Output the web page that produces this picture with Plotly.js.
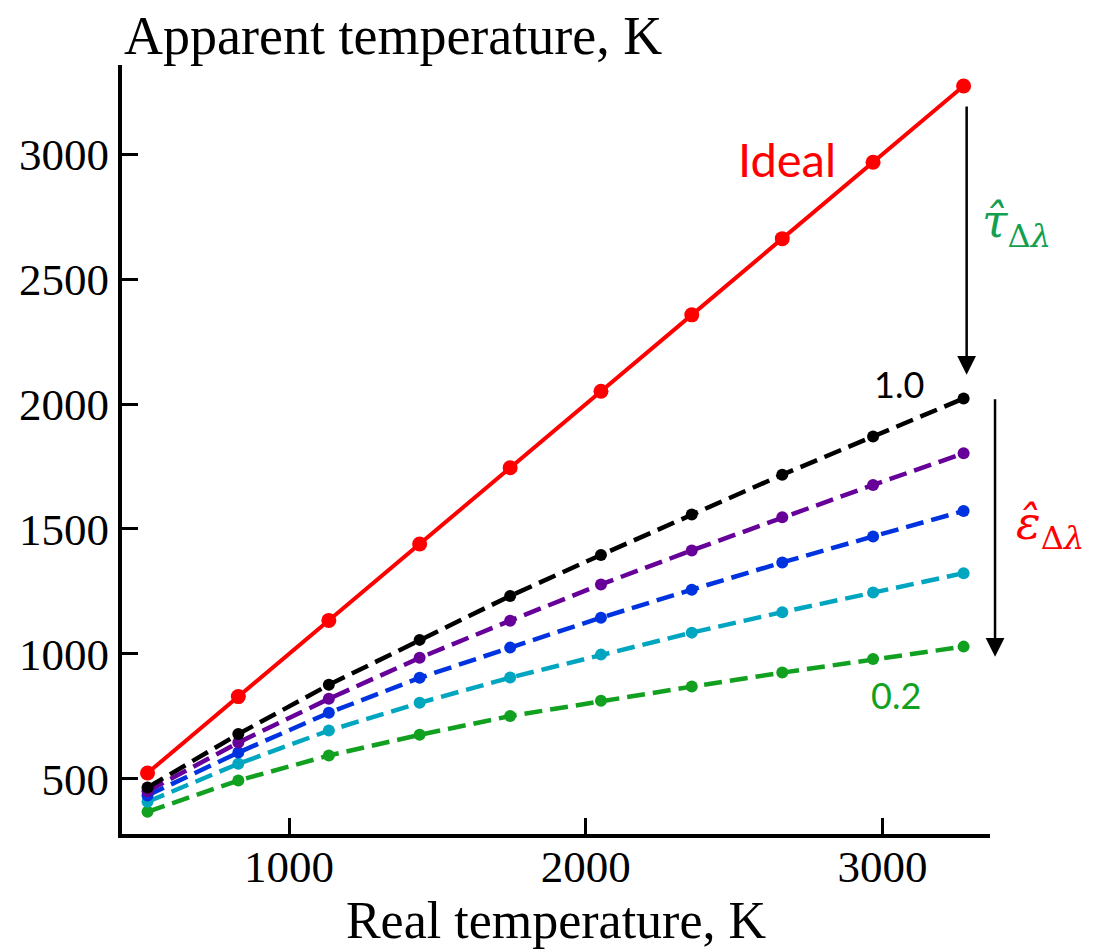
<!DOCTYPE html>
<html>
<head>
<meta charset="utf-8">
<script src="https://cdn.plot.ly/plotly-3.0.1.min.js"></script>
<style>
  html, body { margin: 0; padding: 0; background: #ffffff; }
  #chart { width: 1093px; height: 949px; }
</style>
</head>
<body>
<div id="chart"></div>
<script>
// Real temperature of the source, K
const realTemp = [523, 829, 1134, 1440, 1745, 2051, 2357, 2662, 2968, 3273];

// Apparent temperature for an ideal (lossless) channel, K
const idealTemp = [523, 829, 1134, 1440, 1745, 2051, 2357, 2662, 2968, 3273];

// Apparent temperature for different effective emissivities, K
const emissivityLabels = ['1.0', '0.8', '0.6', '0.4', '0.2'];
const apparent10 = [465, 679, 876, 1056, 1232, 1396, 1558, 1717, 1870, 2022];
const apparent08 = [450, 645, 820, 984, 1133, 1278, 1414, 1547, 1676, 1803];
const apparent06 = [433, 605, 764, 904, 1025, 1145, 1257, 1366, 1470, 1572];
const apparent04 = [408, 560, 693, 804, 905, 997, 1085, 1167, 1246, 1323];
const apparent02 = [368, 493, 593, 676, 751, 812, 869, 925, 979, 1029];

const xTicks = [1000, 2000, 3000];
const yTicks = [500, 1000, 1500, 2000, 2500, 3000];

const serif = 'Liberation Serif, Times New Roman, serif';
const sans = 'Lato, Noto Sans, sans-serif';

const dashedSeries = [
  { y: apparent10, color: '#000000', name: emissivityLabels[0] },
  { y: apparent08, color: '#660099', name: emissivityLabels[1] },
  { y: apparent06, color: '#0033e0', name: emissivityLabels[2] },
  { y: apparent04, color: '#00a6c0', name: emissivityLabels[3] },
  { y: apparent02, color: '#12a020', name: emissivityLabels[4] }
];

const traces = [];
// draw lowest curve first so upper ones overlap it at the crowded left end
dashedSeries.slice().reverse().forEach(s => {
  traces.push({
    x: realTemp,
    y: s.y,
    name: 'ε = ' + s.name,
    type: 'scatter',
    mode: 'lines+markers',
    line: { color: s.color, width: 4.5, dash: '18px,8px' },
    marker: { color: s.color, size: 12 },
    cliponaxis: false
  });
});
traces.push({
  x: realTemp,
  y: idealTemp,
  name: 'Ideal',
  type: 'scatter',
  mode: 'lines+markers',
  line: { color: '#ff0000', width: 4 },
  marker: { color: '#ff0000', size: 15 },
  cliponaxis: false
});

const layout = {
  width: 1093,
  height: 949,
  paper_bgcolor: '#ffffff',
  plot_bgcolor: '#ffffff',
  showlegend: false,
  margin: { l: 122, r: 103, t: 65, b: 115 },
  xaxis: {
    range: [437, 3362],
    tickvals: xTicks,
    ticktext: xTicks.map(String),
    ticks: 'inside',
    ticklen: 16,
    tickwidth: 3,
    tickcolor: '#000000',
    ticklabelstandoff: -10,
    showline: true,
    linewidth: 4,
    linecolor: '#000000',
    showgrid: false,
    zeroline: false,
    tickfont: { family: serif, size: 45, color: '#000000' },
    title: {
      text: 'Real temperature, K',
      font: { family: serif, size: 52, color: '#000000' },
      standoff: 4
    }
  },
  yaxis: {
    range: [279, 3357],
    tickvals: yTicks,
    ticktext: yTicks.map(String),
    ticks: 'inside',
    ticklen: 16,
    tickwidth: 3,
    tickcolor: '#000000',
    showline: true,
    linewidth: 4,
    linecolor: '#000000',
    showgrid: false,
    zeroline: false,
    tickfont: { family: serif, size: 45, color: '#000000' }
  },
  annotations: [
    {
      text: 'Apparent temperature, K',
      xref: 'paper', yref: 'paper',
      x: 0.0, y: 1.038,
      xanchor: 'left', yanchor: 'middle',
      showarrow: false,
      font: { family: serif, size: 54, color: '#000000' }
    },
    {
      text: 'Ideal',
      xref: 'x', yref: 'y',
      x: 2677, y: 2981,
      xanchor: 'center', yanchor: 'middle',
      showarrow: false,
      font: { family: sans, size: 47, color: '#ff0000' }
    },
    {
      text: emissivityLabels[0],
      xref: 'x', yref: 'y',
      x: 3055, y: 2081,
      xanchor: 'center', yanchor: 'middle',
      showarrow: false,
      font: { family: sans, size: 36, color: '#000000' }
    },
    {
      text: emissivityLabels[4],
      xref: 'x', yref: 'y',
      x: 3045, y: 836,
      xanchor: 'center', yanchor: 'middle',
      showarrow: false,
      font: { family: sans, size: 36, color: '#12a020' }
    },
    {
      text: '<i>τ\u0302</i><sub>Δ<i>λ</i></sub>',
      xref: 'paper', yref: 'y',
      x: 1.031, y: 2717,
      xanchor: 'center', yanchor: 'middle',
      showarrow: false,
      font: { family: 'DejaVu Serif, serif', size: 46, color: '#12a050' }
    },
    {
      text: '<i>ε\u0302</i><sub>Δ<i>λ</i></sub>',
      xref: 'paper', yref: 'y',
      x: 1.069, y: 1508,
      xanchor: 'center', yanchor: 'middle',
      showarrow: false,
      font: { family: 'DejaVu Serif, serif', size: 46, color: '#ff0000' }
    },
    {
      text: '',
      xref: 'paper', yref: 'y',
      x: 0.9731, y: 2117,
      axref: 'pixel', ayref: 'y',
      ax: 0, ay: 3197,
      showarrow: true,
      arrowhead: 2,
      arrowsize: 1.5,
      arrowwidth: 2.5,
      arrowcolor: '#000000'
    },
    {
      text: '',
      xref: 'paper', yref: 'y',
      x: 1.0058, y: 988,
      axref: 'pixel', ayref: 'y',
      ax: 0, ay: 2025,
      showarrow: true,
      arrowhead: 2,
      arrowsize: 1.5,
      arrowwidth: 2.5,
      arrowcolor: '#000000'
    }
  ]
};

Plotly.newPlot('chart', traces, layout, { displayModeBar: false, staticPlot: true });
</script>
</body>
</html>
